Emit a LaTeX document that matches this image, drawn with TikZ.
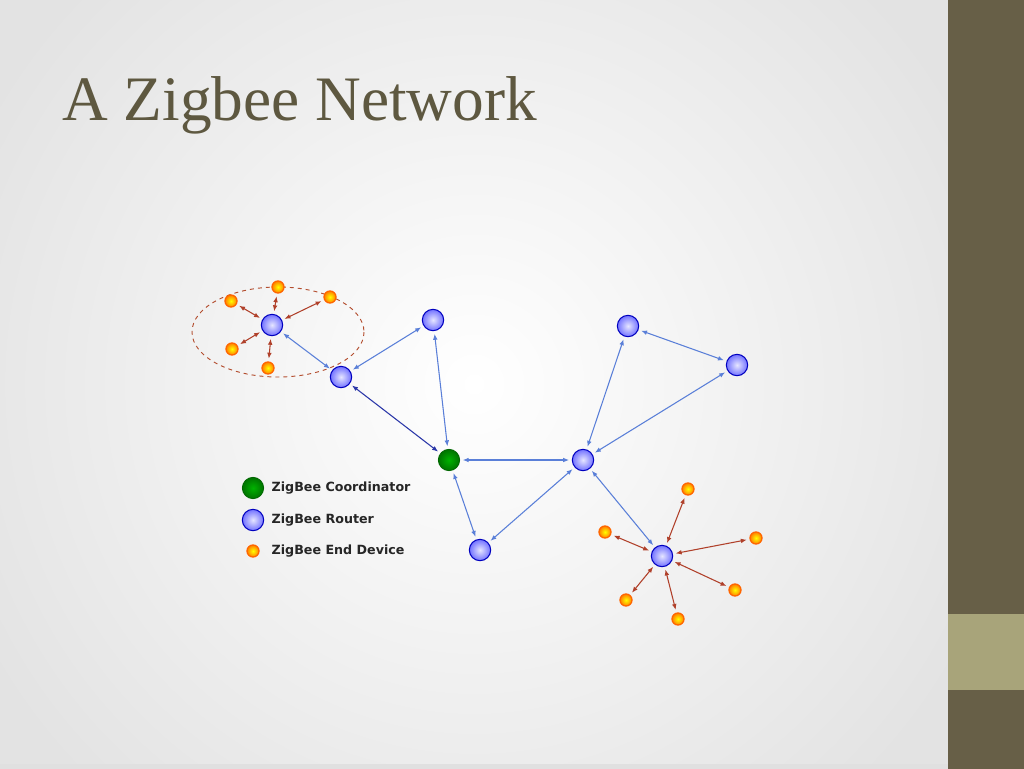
\documentclass[tikz,border=0pt]{standalone}
\usepackage{fontspec}
\setmainfont{Liberation Serif}
\newfontfamily\legfont{DejaVu Sans}
\usetikzlibrary{arrows.meta,shapes.geometric}
\definecolor{olive}{HTML}{675F47}
\definecolor{lolive}{HTML}{A8A47A}
\definecolor{titlec}{HTML}{5E5840}
\definecolor{bl}{HTML}{5A7FD8}
\definecolor{dbl}{HTML}{2A36A8}
\definecolor{rd}{HTML}{B0402A}
\tikzset{
  router/.style={circle,inner sep=0pt,minimum size=16pt,draw=blue!75!black,line width=0.8pt,inner color=blue!10!white,outer color=blue!55!white},
  coord/.style={circle,inner sep=0pt,minimum size=16pt,draw=green!40!black,line width=0.6pt,inner color=green!70!black,outer color=green!45!black},
  enddev/.style={circle,inner sep=0pt,minimum size=9pt,draw=orange!80!red,line width=1pt,inner color=yellow,outer color=orange},
  blink/.style={{Latex[length=4.5pt,width=3.5pt]}-{Latex[length=4.5pt,width=3.5pt]},bl,line width=0.8pt,shorten <=2pt,shorten >=2pt},
  dlink/.style={blink,dbl},
  rlink/.style={blink,rd},
  leg/.style={anchor=west,font=\legfont\bfseries\fontsize{9.5}{10}\selectfont,text=black!85}
}
\begin{document}
\begin{tikzpicture}[x=0.75pt,y=-0.75pt]
\useasboundingbox (0,0) rectangle (1024,768);
\begin{scope}
\clip (0,0) rectangle (948,768);
\fill[black!11] (0,0) rectangle (948,768);
\shade[inner color=white,outer color=black!11] (474,384) circle (560);
\end{scope}
\fill[black!12] (0,764) rectangle (948,768.5);
\fill[olive] (948,0) rectangle (1024,768.5);
\fill[lolive] (948,614) rectangle (1024,690);
\node[anchor=base west,inner sep=0pt,text=titlec,font=\fontsize{47.5}{52}\selectfont] (title) at (62,120) {A Zigbee Network};
\draw[dashed,rd!80!brown,line width=0.7pt] (278,332) ellipse (86 and 45);
% routers
\node[router] (A) at (272,325) {};
\node[router] (B) at (341,377) {};
\node[router] (C) at (433,320) {};
\node[coord] (Z) at (449,460) {};
\node[router] (D) at (480,550) {};
\node[router] (E) at (583,460) {};
\node[router] (F) at (628,326) {};
\node[router] (G) at (737,365) {};
\node[router] (H) at (662,556) {};
% end devices
\node[enddev] (a1) at (231,301) {};
\node[enddev] (a2) at (278,287) {};
\node[enddev] (a3) at (330,297) {};
\node[enddev] (a4) at (232,349) {};
\node[enddev] (a5) at (268,368) {};
\node[enddev] (h1) at (688,489) {};
\node[enddev] (h2) at (605,532) {};
\node[enddev] (h3) at (756,538) {};
\node[enddev] (h4) at (735,590) {};
\node[enddev] (h5) at (626,600) {};
\node[enddev] (h6) at (678,619) {};
% links
\draw[blink] (A) -- (B);
\draw[blink] (B) -- (C);
\draw[dlink] (B) -- (Z);
\draw[blink] (C) -- (Z);
\draw[blink] (Z) -- (E);
\draw[blink] (Z) -- (D);
\draw[blink] (D) -- (E);
\draw[blink] (E) -- (F);
\draw[blink] (F) -- (G);
\draw[blink] (G) -- (E);
\draw[blink] (E) -- (H);
\foreach \n in {a1,a2,a3,a4,a5} \draw[rlink] (A) -- (\n);
\foreach \n in {h1,h2,h3,h4,h5,h6} \draw[rlink] (H) -- (\n);
% legend
\node[coord] (lz) at (253,488) {};
\node[router] (lr) at (253,520) {};
\node[enddev] (le) at (253,551) {};
\node[leg] (tz) at (267,488) {ZigBee Coordinator};
\node[leg] (tr) at (267,520) {ZigBee Router};
\node[leg] (te) at (267,551) {ZigBee End Device};
\end{tikzpicture}
\end{document}
